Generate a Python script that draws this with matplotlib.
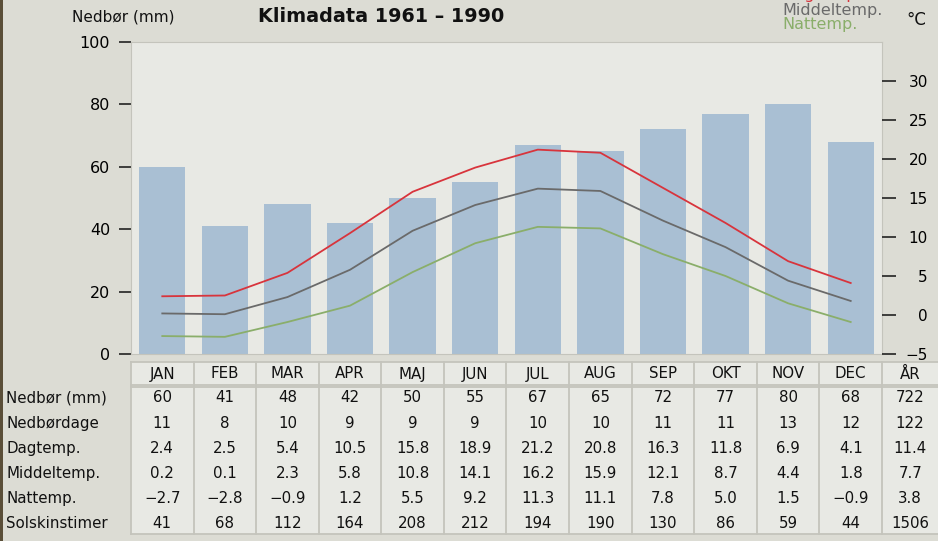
import matplotlib
matplotlib.use("Agg")
import matplotlib.pyplot as plt
import matplotlib.transforms as mtrans
from matplotlib.lines import Line2D
from matplotlib.patches import Rectangle

# data
months = ["JAN", "FEB", "MAR", "APR", "MAJ", "JUN", "JUL", "AUG", "SEP", "OKT", "NOV", "DEC"]
nedbor = [60, 41, 48, 42, 50, 55, 67, 65, 72, 77, 80, 68]
nedbordage = [11, 8, 10, 9, 9, 9, 10, 10, 11, 11, 13, 12]
dagtemp = [2.4, 2.5, 5.4, 10.5, 15.8, 18.9, 21.2, 20.8, 16.3, 11.8, 6.9, 4.1]
middeltemp = [0.2, 0.1, 2.3, 5.8, 10.8, 14.1, 16.2, 15.9, 12.1, 8.7, 4.4, 1.8]
nattemp = [-2.7, -2.8, -0.9, 1.2, 5.5, 9.2, 11.3, 11.1, 7.8, 5.0, 1.5, -0.9]
solskin = [41, 68, 112, 164, 208, 212, 194, 190, 130, 86, 59, 44]
aar = ["722", "122", "11.4", "7.7", "3.8", "1506"]
row_labels = ["Nedbør (mm)", "Nedbørdage", "Dagtemp.", "Middeltemp.", "Nattemp.", "Solskinstimer"]

W, H = 938, 541
BG = "#dcdcd4"
PANEL = "#e8e9e4"
EDGE = "#c4c4bc"
BAR = "#a9bfd3"
RED = "#d8343c"
GRAY = "#6a6a6a"
GREEN = "#8aae6a"
FS = 10.8   # table text

plt.rcParams['font.family'] = ['DejaVu Sans']

fig = plt.figure(figsize=(W / 100, H / 100), dpi=100, facecolor=BG)

def fy(py):
    return 1 - py / H

x0, x1, y0, y1 = 131, 882, 42, 354
ax = fig.add_axes([x0 / W, fy(y1), (x1 - x0) / W, (y1 - y0) / H])
ax.set_facecolor(PANEL)
xs = list(range(12))
ax.bar(xs, nedbor, width=0.74, color=BAR, zorder=1)
ax.set_xlim(-0.5, 11.5)
ax.set_ylim(0, 100)
ax.set_yticks([0, 20, 40, 60, 80, 100])
ax.set_xticks([])
ax.tick_params(axis='y', length=9, width=1.2, color="#222222", labelsize=11.5, pad=6)
for s in ax.spines.values():
    s.set_color(EDGE)

ax2 = ax.twinx()
ax2.plot(xs, dagtemp, color=RED, lw=1.3, zorder=3)
ax2.plot(xs, middeltemp, color=GRAY, lw=1.3, zorder=3)
ax2.plot(xs, nattemp, color=GREEN, lw=1.3, zorder=3)
ax2.set_ylim(-5, 35)
ax2.set_yticks([-5, 0, 5, 10, 15, 20, 25, 30])
ax2.set_yticklabels(["\u22125", "0", "5", "10", "15", "20", "25", "30"])
ax2.tick_params(axis='y', length=10, width=1.2, color="#222222", labelsize=11, pad=23)
for lab in ax2.get_yticklabels():
    lab.set_ha('right')
for s in ax2.spines.values():
    s.set_visible(False)

# headings (the red legend entry is cut off by the top edge, as in the original)
fig.text(72 / W, fy(17), "Nedbør (mm)", fontsize=11, va='center', ha='left', color="#111111")
fig.text(258 / W, fy(16), "Klimadata 1961 \u2013 1990", fontsize=13.8, fontweight='bold', va='center', ha='left', color="#111111")
fig.text(782 / W, fy(-6), "Dagtemp.", fontsize=11.5, va='center', ha='left', color=RED)
fig.text(782 / W, fy(10), "Middeltemp.", fontsize=11.5, va='center', ha='left', color=GRAY)
fig.text(782 / W, fy(25), "Nattemp.", fontsize=11.5, va='center', ha='left', color=GREEN)
fig.text(906 / W, fy(20), "°C", fontsize=12, va='center', ha='left', color="#111111")

# table under the chart, columns follow the month positions
tr = mtrans.blended_transform_factory(ax.transData, fig.transFigure)
fig.patches.append(Rectangle((x0 / W, fy(534)), 1 - x0 / W, fy(362) - fy(534),
                             transform=fig.transFigure, facecolor=PANEL, edgecolor='none', zorder=0))
for ya, yb in [(362, 385), (387, 534)]:
    for yy in (ya, yb):
        fig.add_artist(Line2D([-0.5, 12.6], [fy(yy), fy(yy)], transform=tr, color=EDGE, lw=1.3))
    for i in range(14):
        fig.add_artist(Line2D([i - 0.5, i - 0.5], [fy(ya), fy(yb)], transform=tr, color=EDGE, lw=1.3))

def fmt(v):
    return str(v).replace("-", "\u2212")

for i, m in enumerate(months):
    fig.text(i, fy(374), m, transform=tr, fontsize=FS, ha='center', va='center', color="#111111")
fig.text(11.95, fy(374), "ÅR", transform=tr, fontsize=FS, ha='center', va='center', color="#111111")

rows = [nedbor, nedbordage, dagtemp, middeltemp, nattemp, solskin]
for r, (lab, vals) in enumerate(zip(row_labels, rows)):
    yy = fy(398 + r * 25.2)
    fig.text(6 / W, yy, lab, fontsize=FS, ha='left', va='center', color="#111111")
    for i, v in enumerate(vals):
        fig.text(i, yy, fmt(v), transform=tr, fontsize=FS, ha='center', va='center', color="#111111")
    fig.text(11.95, yy, aar[r], transform=tr, fontsize=FS, ha='center', va='center', color="#111111")

fig.patches.append(Rectangle((0, 0), 3 / W, 1, transform=fig.transFigure, facecolor="#5a4e38", edgecolor='none'))

fig.savefig("out.png", dpi=100, facecolor=BG)
